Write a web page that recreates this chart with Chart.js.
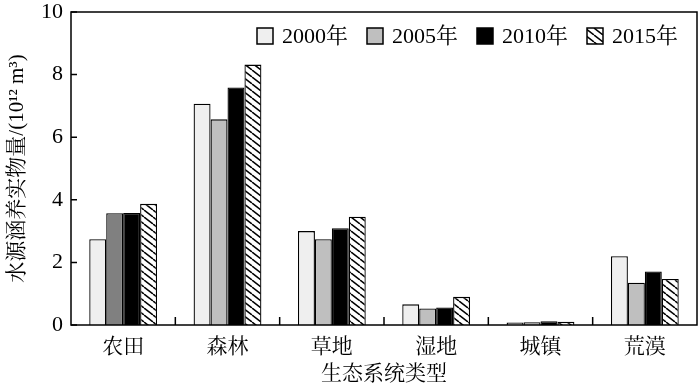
<!DOCTYPE html>
<html><head><meta charset="utf-8">
<script src="https://cdn.jsdelivr.net/npm/chart.js@4"></script>
<style>html,body{margin:0;padding:0;background:#fff}#wrap{width:700px;height:387px}</style>
</head><body><div id="wrap"><canvas id="c" width="700" height="387"></canvas></div>
<script>
const categories = ['农田','森林','草地','湿地','城镇','荒漠'];
const seriesNames = ['2000年','2005年','2010年','2015年'];
const v2000 = [2.74, 7.07, 3.00, 0.66, 0.08, 2.20];
const v2005 = [3.57, 6.57, 2.74, 0.53, 0.09, 1.35];
const v2010 = [3.58, 7.59, 3.09, 0.56, 0.12, 1.71];
const v2015 = [3.87, 8.32, 3.46, 0.90, 0.10, 1.47];
const yTicks = [0, 2, 4, 6, 8, 10];
const yTitle = '水源涵养实物量/(10¹² m³)';
const xTitle = '生态系统类型';

const FONT = "'Liberation Serif', 'Noto Serif CJK SC', 'Noto Sans CJK SC', serif";

function makeHatch() {
  const w = 9, h = 7;
  const c = document.createElement('canvas');
  c.width = w; c.height = h;
  const g = c.getContext('2d');
  g.fillStyle = '#fff'; g.fillRect(0, 0, w, h);
  g.strokeStyle = '#000'; g.lineWidth = 1.5;
  for (let k = -1; k <= 1; k++) {
    g.beginPath(); g.moveTo(k * w, 0); g.lineTo(k * w + w, h); g.stroke();
  }
  return document.getElementById('c').getContext('2d').createPattern(c, 'repeat');
}
const hatch = makeHatch();

const fills = [
  '#efefef',
  categories.map((_, i) => i === 0 ? '#808080' : '#bfbfbf'),
  '#000000',
  hatch
];
const legendFills = ['#efefef', '#bfbfbf', '#000000', hatch];
const values = [v2000, v2005, v2010, v2015];

const framePlugin = {
  id: 'frame',
  afterDraw(chart) {
    const ctx = chart.ctx, a = chart.chartArea;
    const xs = chart.scales.x, ys = chart.scales.y;
    ctx.save();
    ctx.strokeStyle = '#000'; ctx.lineWidth = 1.5;
    ctx.strokeRect(a.left, a.top, a.right - a.left, a.bottom - a.top);
    ctx.beginPath();
    yTicks.forEach(t => {
      const y = ys.getPixelForValue(t);
      ctx.moveTo(a.left, y); ctx.lineTo(a.left + 6, y);
    });
    for (let i = 0; i < categories.length - 1; i++) {
      const x = (xs.getPixelForValue(i) + xs.getPixelForValue(i + 1)) / 2;
      ctx.moveTo(x, a.bottom); ctx.lineTo(x, a.bottom - 8);
    }
    ctx.stroke();
    // legend
    ctx.font = '22px ' + FONT;
    ctx.textBaseline = 'middle';
    ctx.fillStyle = '#000';
    let x = a.right - 440;
    const yc = a.top + 24;
    seriesNames.forEach((n, i) => {
      ctx.fillStyle = legendFills[i];
      ctx.fillRect(x, yc - 8, 16, 16);
      ctx.lineWidth = 1.5; ctx.strokeStyle = '#000';
      ctx.strokeRect(x, yc - 8, 16, 16);
      ctx.fillStyle = '#000';
      ctx.fillText(n, x + 25, yc + 1);
      x += 110;
    });
    ctx.restore();
  }
};

new Chart(document.getElementById('c'), {
  type: 'bar',
  data: {
    labels: categories,
    datasets: seriesNames.map((n, i) => ({
      label: n,
      data: values[i],
      backgroundColor: fills[i],
      borderColor: '#000',
      borderWidth: 1.3,
      categoryPercentage: 0.65,
      barPercentage: 1.0
    }))
  },
  options: {
    responsive: false,
    animation: false,
    devicePixelRatio: 1,
    layout: { padding: { top: 12, right: 3, left: 0, bottom: 0 } },
    plugins: { legend: { display: false }, tooltip: { enabled: false } },
    scales: {
      x: {
        grid: { display: false, drawTicks: false },
        border: { display: false },
        ticks: { color: '#000', font: { family: FONT, size: 21 }, padding: 10 },
        title: { display: true, text: xTitle, color: '#000', font: { family: FONT, size: 21 }, padding: { top: 0, bottom: 0 } },
        afterFit(s) { s.height = 62; s.paddingLeft = 0; s.paddingRight = 0; }
      },
      y: {
        min: 0, max: 10,
        afterBuildTicks(s) { s.ticks = yTicks.map(v => ({ value: v })); },
        grid: { display: false, drawTicks: false },
        border: { display: false },
        ticks: { color: '#000', font: { family: FONT, size: 22 }, padding: 8 },
        title: { display: true, text: yTitle, color: '#000', font: { family: FONT, size: 21 }, padding: { top: 5, bottom: 0 } },
        afterFit(s) { s.width = 71; s.paddingTop = 0; s.paddingBottom = 0; }
      }
    }
  },
  plugins: [framePlugin]
});
</script>
</body></html>
